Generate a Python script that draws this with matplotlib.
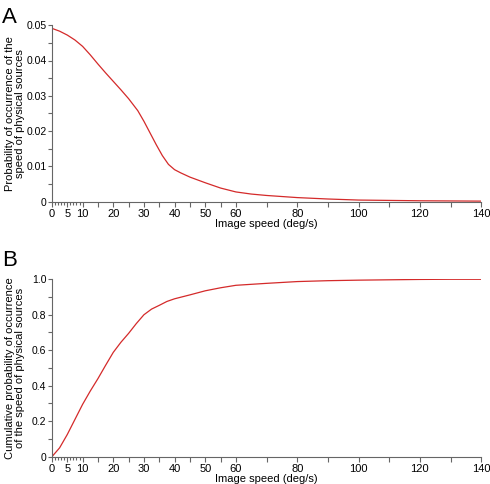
import matplotlib
matplotlib.use("Agg")
import matplotlib.pyplot as plt
import numpy as np

plt.rcParams['font.family'] = ['Liberation Sans', 'DejaVu Sans']

# Panel A: probability of occurrence of speed
speed_a = [0, 2.5, 5, 7.5, 10, 12.5, 15, 17.5, 20, 22.5, 25, 28, 30, 32, 34, 36, 38, 40, 42, 45, 50, 55, 60, 65, 70, 80, 90, 100, 110, 120, 130, 140]
prob_a = [0.0491, 0.0483, 0.0472, 0.0458, 0.0440, 0.0416, 0.0390, 0.0365, 0.0341, 0.0317, 0.0292, 0.0258, 0.0228, 0.0195, 0.0162, 0.0131, 0.0106, 0.0091, 0.0082, 0.0070, 0.0054, 0.0039, 0.0028, 0.0022, 0.0018, 0.0012, 0.0008, 0.0005, 0.0004, 0.0003, 0.00025, 0.0002]

# Panel B: cumulative probability
speed_b = [0, 2.5, 5, 7.5, 10, 12.5, 15, 17.5, 20, 22.5, 25, 27.5, 30, 32.5, 35, 37.5, 40, 45, 50, 55, 60, 70, 80, 90, 100, 110, 120, 130, 140]
cum_b = [0.0, 0.05, 0.125, 0.21, 0.295, 0.37, 0.44, 0.515, 0.588, 0.645, 0.695, 0.75, 0.80, 0.832, 0.853, 0.875, 0.89, 0.912, 0.935, 0.952, 0.966, 0.977, 0.987, 0.992, 0.995, 0.997, 0.999, 1.0, 1.0]

major_x = [0, 5, 10, 15, 20, 25, 30, 35, 40, 45, 50, 55, 60, 70, 80, 90, 100, 110, 120, 130, 140]
labels_x = {0: '0', 5: '5', 10: '10', 20: '20', 30: '30', 40: '40', 50: '50', 60: '60',
            80: '80', 100: '100', 120: '120', 140: '140'}
minor_x = [1, 2, 3, 4, 6, 7, 8, 9]

line_color = '#d42a2a'
spine_color = '#666666'

fig = plt.figure(figsize=(4.9, 4.84), dpi=100)
ax1 = fig.add_axes([0.106, 0.583, 0.876, 0.365])
ax2 = fig.add_axes([0.106, 0.0564, 0.876, 0.3666])


def style(ax):
    for s in ['top', 'right']:
        ax.spines[s].set_visible(False)
    for s in ['left', 'bottom']:
        ax.spines[s].set_color(spine_color)
        ax.spines[s].set_linewidth(0.8)
    ax.set_xlim(0, 140)
    ax.set_xticks(major_x)
    ax.set_xticklabels([labels_x.get(v, '') for v in major_x])
    ax.set_xticks(minor_x, minor=True)
    ax.tick_params(axis='x', which='major', length=3.5, width=0.8, color=spine_color, labelsize=8, pad=2)
    ax.tick_params(axis='x', which='minor', length=2.2, width=0.8, color=spine_color)
    ax.tick_params(axis='y', which='major', length=3, width=0.8, color=spine_color, labelsize=7.5, pad=1)
    ax.tick_params(axis='y', which='minor', length=3, width=0.8, color=spine_color)
    ax.set_xlabel('Image speed (deg/s)', fontsize=8, labelpad=0)
    ax.yaxis.set_label_coords(-0.063, 0.5)


ax1.plot(speed_a, prob_a, color=line_color, lw=0.9)
style(ax1)
ax1.set_ylim(0, 0.05)
ax1.set_yticks([0, 0.01, 0.02, 0.03, 0.04, 0.05])
ax1.set_yticklabels(['0', '0.01', '0.02', '0.03', '0.04', '0.05'])
ax1.set_yticks(np.arange(0.005, 0.05, 0.01), minor=True)
ax1.set_ylabel('Probability of occurrence of the\nspeed of physical sources', fontsize=8, linespacing=1.0)

ax2.plot(speed_b, cum_b, color=line_color, lw=0.9)
style(ax2)
ax2.set_ylim(0, 1.0)
ax2.set_yticks([0, 0.2, 0.4, 0.6, 0.8, 1.0])
ax2.set_yticklabels(['0', '0.2', '0.4', '0.6', '0.8', '1.0'])
ax2.set_yticks(np.arange(0.1, 1.0, 0.2), minor=True)
ax2.set_ylabel('Cumulative probability of occurrence\nof the speed of physical sources', fontsize=8, linespacing=1.0)

fig.text(0.004, 0.985, 'A', fontsize=16, va='top', ha='left')
fig.text(0.004, 0.483, 'B', fontsize=16, va='top', ha='left')

fig.savefig('out.png', dpi=100)
